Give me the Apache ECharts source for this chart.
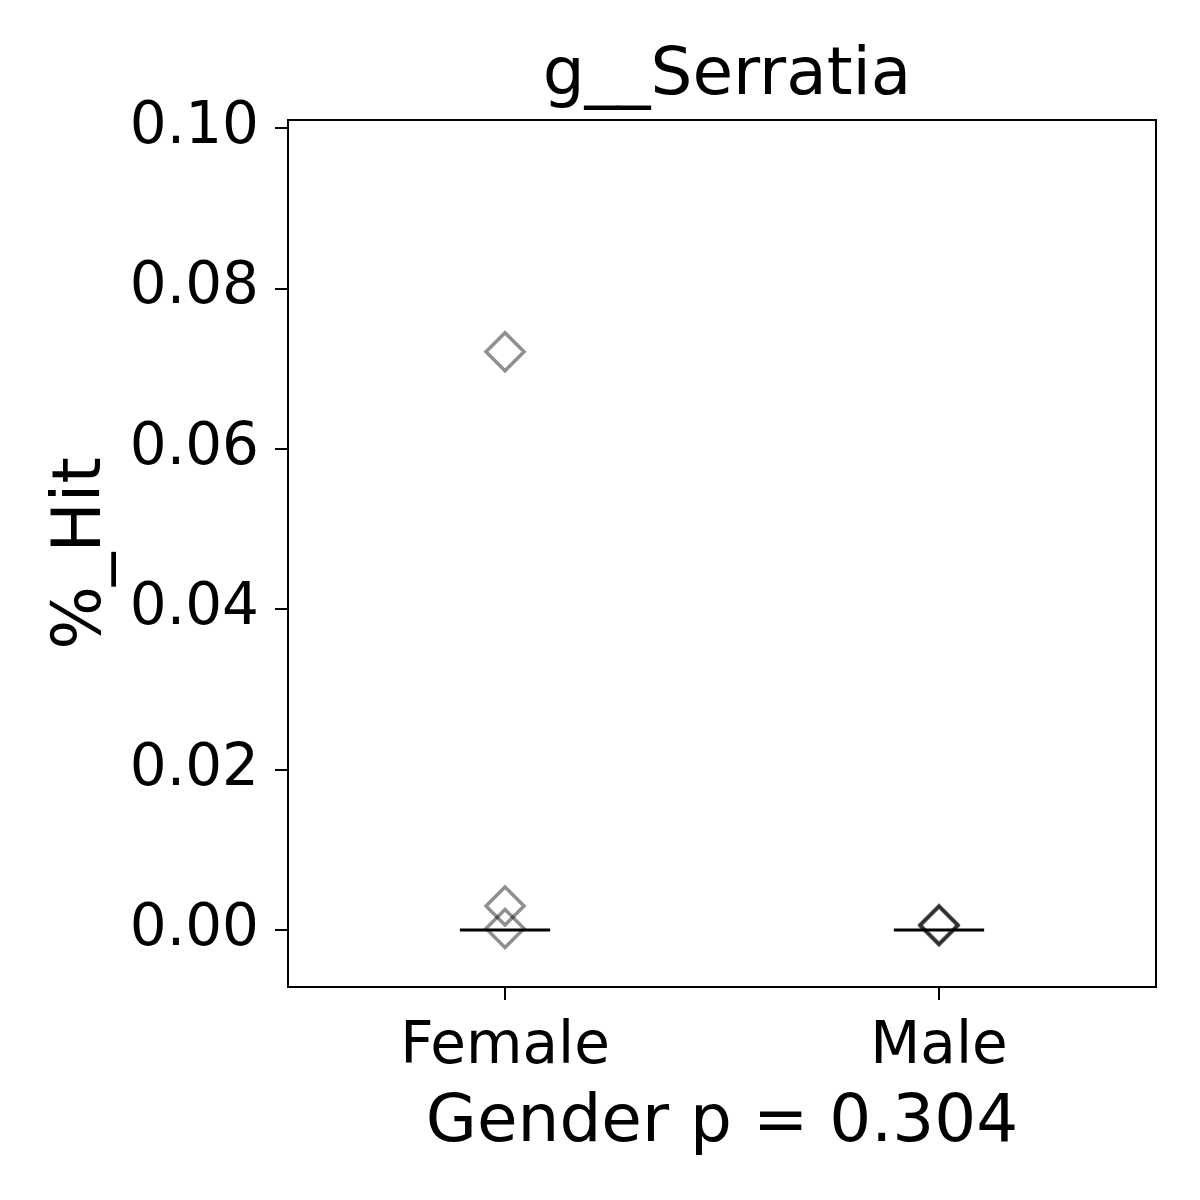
<!DOCTYPE html>
<html><head><meta charset="utf-8">
<script src="https://cdn.jsdelivr.net/npm/echarts@6/dist/echarts.min.js"></script>
<style>html,body{margin:0;padding:0;background:#fff}#c{width:1200px;height:1200px}</style>
</head><body><div id="c"></div>
<script>
const categories = ['Female', 'Male'];
const femaleValues = [0.0721, 0.0030, 0.0002];
const maleValues = [0.0005, 0.0007, 0.0006];
const medians = [0.0, 0.0];
const yTicks = [0, 0.02, 0.04, 0.06, 0.08, 0.10];
const title = 'g__Serratia';
const xLabel = 'Gender p = 0.304';
const yLabel = '%_Hit';

const F = 'DejaVu Sans';
const pts = [];
femaleValues.forEach(v => pts.push([0, v]));
maleValues.forEach(v => pts.push([1, v]));
const medSeries = medians.map((m, i) => ({
  type: 'line', data: [[i - 0.104, m], [i + 0.104, m]], symbol: 'none',
  lineStyle: {color: '#000', width: 3}, z: 1, silent: true
}));

const chart = echarts.init(document.getElementById('c'), null, {renderer: 'canvas'});
chart.setOption({
  animation: false,
  backgroundColor: '#fff',
  title: {text: title, left: 722, top: 39, textAlign: 'center',
    textStyle: {fontFamily: F, fontSize: 66, fontWeight: 'normal', color: '#000'}},
  grid: {left: 288, top: 120, width: 868, height: 867, show: true, borderColor: '#000', borderWidth: 2, backgroundColor: 'transparent'},
  xAxis: {type: 'value', min: -0.5, max: 1.5,
    name: xLabel, nameLocation: 'middle', nameGap: 104,
    nameTextStyle: {fontFamily: F, fontSize: 66, color: '#000'},
    axisLine: {show: true, onZero: false, lineStyle: {color: '#000', width: 2}}, splitLine: {show: false},
    axisTick: {show: true, customValues: [0, 1], length: 13, lineStyle: {color: '#000', width: 2}},
    axisLabel: {customValues: [0, 1], formatter: v => categories[Math.round(v)], margin: 32,
      fontFamily: F, fontSize: 58, color: '#000'}},
  yAxis: {type: 'value', min: -0.0071, max: 0.101,
    name: yLabel, nameLocation: 'middle', nameGap: 172, nameRotate: 90,
    nameTextStyle: {fontFamily: F, fontSize: 67, color: '#000'},
    axisLine: {show: true, onZero: false, lineStyle: {color: '#000', width: 2}}, splitLine: {show: false},
    axisTick: {show: true, customValues: yTicks, length: 13, lineStyle: {color: '#000', width: 2}},
    axisLabel: {customValues: yTicks, formatter: v => v.toFixed(2), margin: 29,
      fontFamily: F, fontSize: 58, color: '#000'}},
  series: medSeries.concat([{
    type: 'scatter', data: pts, symbol: 'diamond', symbolSize: 38, z: 3,
    itemStyle: {color: 'rgba(0,0,0,0)', borderColor: 'rgba(0,0,0,0.55)', borderWidth: 3.5}
  }])
});
</script></body></html>
